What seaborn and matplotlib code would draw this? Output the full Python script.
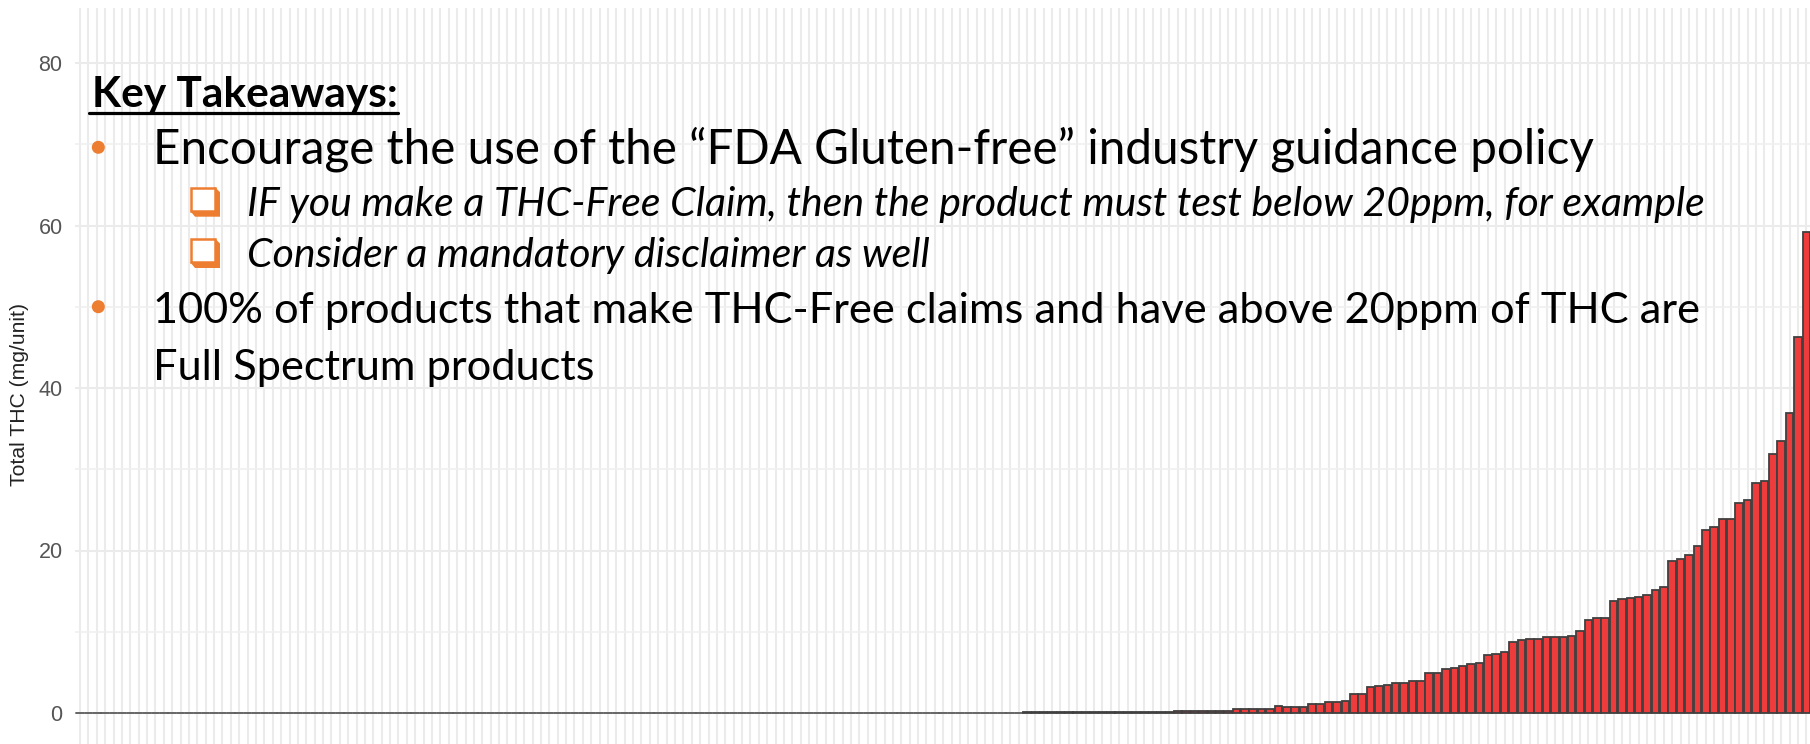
import matplotlib
matplotlib.use("Agg")
import matplotlib.pyplot as plt
import seaborn as sns
import pandas as pd
from matplotlib.transforms import Affine2D
from matplotlib.patches import Circle, Rectangle, Polygon
from matplotlib.lines import Line2D

# ---------------- data ----------------
thc_values = [
    # products with no detectable THC
    0, 0, 0, 0, 0, 0, 0, 0, 0, 0, 0, 0, 0, 0, 0, 0, 0, 0, 0, 0,
    0, 0, 0, 0, 0, 0, 0, 0, 0, 0, 0, 0, 0, 0, 0, 0, 0, 0, 0, 0,
    0, 0, 0, 0, 0, 0, 0, 0, 0, 0, 0, 0, 0, 0, 0, 0, 0, 0, 0, 0,
    0, 0, 0, 0, 0, 0, 0, 0, 0, 0, 0, 0, 0, 0, 0, 0, 0, 0, 0, 0,
    0, 0, 0, 0, 0, 0, 0, 0, 0, 0, 0, 0, 0, 0, 0, 0, 0, 0, 0, 0,
    0, 0, 0, 0, 0, 0, 0, 0, 0, 0, 0, 0, 0,
    # trace amounts
    0.15, 0.15, 0.15, 0.15, 0.15, 0.15, 0.15, 0.15, 0.15, 0.15,
    0.15, 0.15, 0.15, 0.15, 0.15, 0.15, 0.15, 0.15,
    0.3, 0.3, 0.3, 0.3, 0.3, 0.3, 0.3,
    0.55, 0.55, 0.55, 0.55, 0.55,
    0.85, 0.8, 0.8, 0.8,
    1.05, 1.05, 1.35, 1.35, 1.5, 2.3, 2.3, 3.15, 3.35, 3.5,
    3.7, 3.7, 3.9, 3.9, 4.9, 4.9, 5.4, 5.6, 5.8, 6.0,
    6.2, 7.1, 7.3, 7.5, 8.8, 9.0, 9.1, 9.1, 9.3, 9.3,
    9.3, 9.5, 10.1, 11.5, 11.7, 11.7, 13.8, 14.0, 14.2, 14.3,
    14.5, 15.1, 15.5, 18.7, 18.9, 19.5, 20.5, 22.5, 22.9, 23.9,
    23.9, 25.8, 26.2, 28.3, 28.5, 31.9, 33.5, 36.9, 46.3, 59.2,
]
product_ids = ["P%03d" % (i + 1) for i in range(len(thc_values))]
y_major_ticks = [0, 20, 40, 60, 80]
y_minor_ticks = [10, 30, 50, 70]
y_label = "Total THC (mg/unit)"

heading = "Key Takeaways:"
bullet_1 = "Encourage the use of the \u201cFDA Gluten-free\u201d industry guidance policy"
sub_1 = "IF you make a THC-Free Claim, then the product must test below 20ppm, for example"
sub_2 = "Consider a mandatory disclaimer as well"
bullet_2a = "100% of products that make THC-Free claims and have above 20ppm of THC are"
bullet_2b = "Full Spectrum products"

# ---------------- style ----------------
sns.set_style("white")
plt.rcParams["font.family"] = ["Liberation Sans", "DejaVu Sans"]

W, H = 1810, 744
fig = plt.figure(figsize=(W / 100, H / 100), dpi=100)
px = Affine2D().scale(1, -1).translate(0, H)   # pixel coords, origin top-left

n = len(thc_values)
pitch = 8.38
ax_left = 75.0
ax_right = ax_left + (n - 1 + 1.2) * pitch
y0_px, ppu = 713.0, 8.125
ylo, yhi = -4.2, 86.8
top_px = y0_px - yhi * ppu
bot_px = y0_px - ylo * ppu
ax = fig.add_axes([ax_left / W, (H - bot_px) / H,
                   (ax_right - ax_left) / W, (bot_px - top_px) / H])

df = pd.DataFrame({"product": product_ids, "thc": thc_values})
sns.barplot(data=df, x="product", y="thc", order=product_ids,
            color="#EE3B3B", saturation=1, edgecolor="#404040",
            linewidth=1.3, width=0.9, errorbar=None, ax=ax, zorder=3)

# zero-height bars render as a continuous grey baseline outline
for p in ax.patches:
    if p.get_height() == 0:
        p.set_joinstyle("round")
        p.set_capstyle("round")
        p.set_edgecolor("#5c5c5c")

ax.set_xlim(-0.6, n - 1 + 0.6)
ax.set_ylim(ylo, yhi)
ax.set_xticks(range(n))
ax.set_xticklabels([])
ax.set_yticks(y_major_ticks)
ax.set_yticks(y_minor_ticks, minor=True)
ax.set_yticklabels([str(v) for v in y_major_ticks])
ax.grid(True, which="major", axis="both", color="#EBEBEB", linewidth=1.5, zorder=0)
ax.grid(True, which="minor", axis="y", color="#EFEFEF", linewidth=1.1, zorder=0)
ax.set_axisbelow(True)
ax.tick_params(axis="both", which="both", length=0)
ax.tick_params(axis="y", labelsize=15.5, labelcolor="#555555", pad=9)
for s in ax.spines.values():
    s.set_visible(False)
ax.set_xlabel("")
ax.set_ylabel("")

fig.canvas.draw()
renderer = fig.canvas.get_renderer()


def fit_width(t, target):
    for _ in range(3):
        bb = t.get_window_extent(renderer)
        t.set_fontsize(t.get_fontsize() * target / bb.width)


# y label
yl = fig.text(20, 394, y_label, transform=px, rotation=90, ha="center",
              va="center", fontsize=14, color="#222222")
for _ in range(3):
    bb = yl.get_window_extent(renderer)
    yl.set_fontsize(yl.get_fontsize() * 183 / bb.height)

# ---------------- overlay text ----------------
FONT = ["Lato", "DejaVu Sans"]
ORANGE = "#ED7D31"


def ptext(x, y, s, **kw):
    return fig.text(x, y, s, transform=px, ha="left", va="baseline",
                    family=FONT, color="black", **kw)


t_head = ptext(91.5, 106.7, heading, fontsize=28, fontweight="bold")
fit_width(t_head, 396.7 - 91.5)
fig.add_artist(Line2D([89.3, 398], [113, 113], transform=px, color="black",
                      linewidth=2.3))

t_b1 = ptext(152.7, 163.3, bullet_1, fontsize=30)
fit_width(t_b1, 1590 - 152.7)

t_s1 = ptext(246.7, 215.7, sub_1, fontsize=26, style="italic")
fit_width(t_s1, 1703 - 246.7)
t_s2 = ptext(246.7, 267.3, sub_2, fontsize=t_s1.get_fontsize(), style="italic")

t_b2a = ptext(152.7, 323.3, bullet_2a, fontsize=30)
fit_width(t_b2a, 1701.7 - 152.7)
t_b2b = ptext(152.7, 380.0, bullet_2b, fontsize=t_b2a.get_fontsize())

# bullets
for cy in (147.3, 306.7):
    fig.add_artist(Circle((98.3, cy), 5.8, transform=px, color=ORANGE))

# shadowed check boxes
for top in (186.7, 238.0):
    x0, y0 = 190.0, top
    shadow = Polygon([(x0, y0 + 24), (x0 + 5, y0 + 30), (x0 + 30, y0 + 30),
                      (x0 + 30, y0 + 5.5), (x0 + 24.5, y0),
                      (x0 + 24.5, y0 + 24)],
                     closed=True, transform=px, facecolor=ORANGE,
                     edgecolor="none")
    fig.add_artist(shadow)
    box = Rectangle((x0 + 1, y0 + 1), 23.5, 23, transform=px,
                    facecolor="white", edgecolor=ORANGE, linewidth=1.8)
    fig.add_artist(box)

fig.savefig("out.png", dpi=100)
